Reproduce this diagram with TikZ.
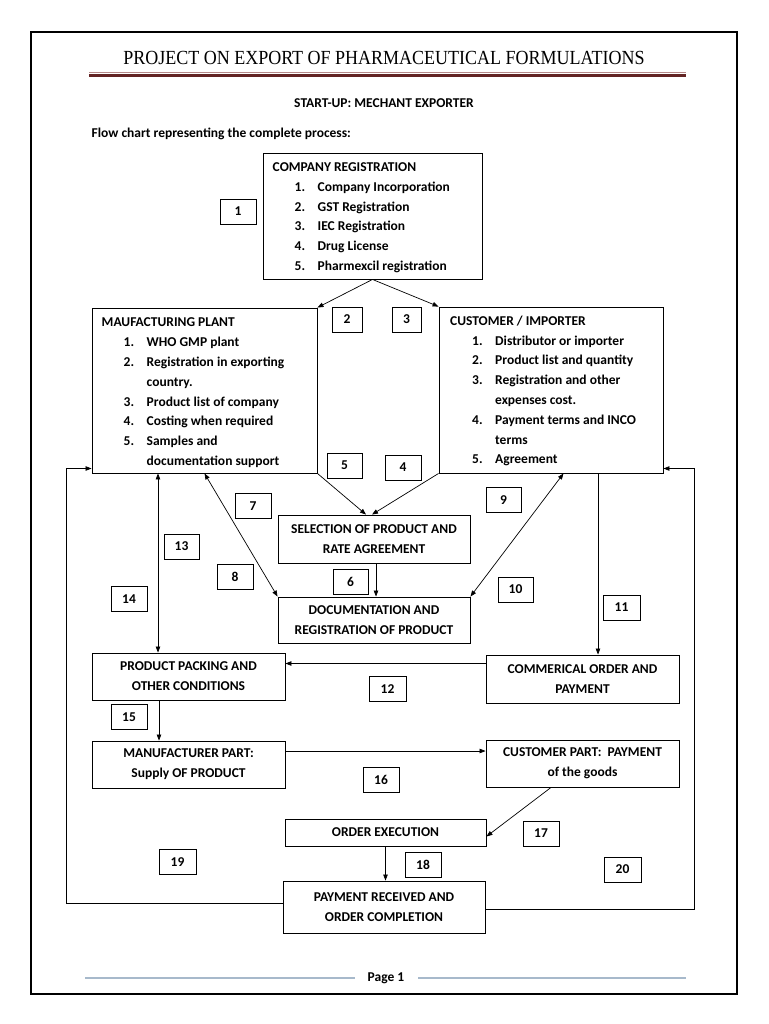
\documentclass[tikz,border=0pt]{standalone}
\usepackage{fontspec}
\setmainfont{Carlito}
\newfontfamily\titlefont[FakeStretch=0.9]{Liberation Serif}
\usetikzlibrary{arrows.meta}
\definecolor{maroondark}{HTML}{632423}
\definecolor{maroonlight}{HTML}{B58A8A}
\definecolor{footline}{HTML}{A7B9CB}
\newcommand\bodyfont{\fontsize{13.5}{19.8}\selectfont\bfseries}
\newcommand\li[2]{\hspace*{22pt}\makebox[23pt][l]{#1}#2}
\newcommand\lc[1]{\hspace*{45pt}#1}
\tikzset{
  box/.style={draw=black, line width=0.9pt, inner sep=0pt, align=center, font=\bodyfont},
  lbl/.style={draw=black, line width=0.9pt, inner sep=0pt, minimum width=36pt, minimum height=25pt, font=\fontsize{13.5}{15}\selectfont\bfseries},
  listtext/.style={anchor=base west, align=left, inner sep=0pt, font=\bodyfont},
  arr/.style={line width=0.7pt, -{Triangle[length=6pt,width=4.5pt]}},
  dbl/.style={line width=0.7pt, {Triangle[length=6pt,width=4.5pt]}-{Triangle[length=6pt,width=4.5pt]}},
  plain/.style={line width=0.7pt}
}
\begin{document}
\begin{tikzpicture}[x=1pt,y=-1pt]
\useasboundingbox (0,0) rectangle (768,1024);
% page frame
\draw[line width=1.2pt] (31,32) rectangle (737,994);
% header
\node[inner sep=0pt, anchor=base, font=\titlefont\fontsize{20}{24}\selectfont] (title) at (384,65) {PROJECT ON EXPORT OF PHARMACEUTICAL FORMULATIONS};
\draw[maroonlight, line width=1.2pt] (89,72.5) -- (686,72.5);
\draw[maroondark, line width=3pt] (89,76) -- (686,76);
\node[inner sep=0pt, font=\bodyfont] (sub) at (384,103) {START-UP: MECHANT EXPORTER};
\node[inner sep=0pt, anchor=west, font=\bodyfont] (flow) at (91.5,133.5) {Flow chart representing the complete process:};
% footer
\node[inner sep=0pt, font=\bodyfont] (page) at (386,978) {Page 1};
\draw[footline, line width=1.5pt] (85,978) -- (355,978);
\draw[footline, line width=1.5pt] (418,978) -- (686,978);

% main boxes
\node[box, minimum width=219pt, minimum height=126pt] (comp) at (372.5,216) {};
\node[listtext] (comptxt) at (272.5,270.5) {COMPANY REGISTRATION\\
\li{1.}{Company Incorporation}\\
\li{2.}{GST Registration}\\
\li{3.}{IEC Registration}\\
\li{4.}{Drug License}\\
\li{5.}{Pharmexcil registration}};

\node[box, minimum width=225pt, minimum height=165pt] (manu) at (204.5,390.5) {};
\node[listtext] (manutxt) at (101.5,465.5) {MAUFACTURING PLANT\\
\li{1.}{WHO GMP plant}\\
\li{2.}{Registration in exporting}\\
\lc{country.}\\
\li{3.}{Product list of company}\\
\li{4.}{Costing when required}\\
\li{5.}{Samples and}\\
\lc{documentation support}};

\node[box, minimum width=224pt, minimum height=166pt] (cust) at (551,390) {};
\node[listtext] (custtxt) at (450,463.8) {CUSTOMER / IMPORTER\\
\li{1.}{Distributor or importer}\\
\li{2.}{Product list and quantity}\\
\li{3.}{Registration and other}\\
\lc{expenses cost.}\\
\li{4.}{Payment terms and INCO}\\
\lc{terms}\\
\li{5.}{Agreement}};

\node[box, minimum width=192pt, minimum height=48pt] (sel) at (374,539) {SELECTION OF PRODUCT AND\\RATE AGREEMENT};
\node[box, minimum width=192pt, minimum height=46pt] (doc) at (374,620) {DOCUMENTATION AND\\REGISTRATION OF PRODUCT};
\node[box, minimum width=193pt, minimum height=47pt] (pack) at (188.5,676.5) {PRODUCT PACKING AND\\OTHER CONDITIONS};
\node[box, minimum width=193pt, minimum height=48pt] (comm) at (582.5,679) {COMMERICAL ORDER AND\\PAYMENT};
\node[box, minimum width=193pt, minimum height=47pt] (mpart) at (188.5,764.5) {MANUFACTURER PART:\\Supply OF PRODUCT};
\node[box, minimum width=193pt, minimum height=47pt] (cpart) at (582.5,763.5) {CUSTOMER PART:\ \ PAYMENT\\of the goods};
\node[box, minimum width=201pt, minimum height=27pt] (exec) at (385.5,832.5) {ORDER EXECUTION};
\node[box, minimum width=202pt, minimum height=52pt] (pay) at (384,907) {PAYMENT RECEIVED AND\\ORDER COMPLETION};

% number labels
\node[lbl] (l1) at (238,211.5) {1};
\node[lbl, minimum width=30pt] (l2) at (347,319.5) {2};
\node[lbl, minimum width=29pt] (l3) at (406.5,319.5) {3};
\node[lbl, minimum width=35pt] (l5) at (344.5,465.5) {5};
\node[lbl] (l4) at (403,467.5) {4};
\node[lbl] (l7) at (253,506) {7};
\node[lbl, minimum width=35pt] (l13) at (181.5,546.5) {13};
\node[lbl] (l8) at (235,576.5) {8};
\node[lbl] (l14) at (129,599) {14};
\node[lbl, minimum width=35pt] (l6) at (350.5,581.5) {6};
\node[lbl, minimum width=35pt] (l9) at (503.5,500) {9};
\node[lbl, minimum width=35pt] (l10) at (515.5,589.5) {10};
\node[lbl, minimum width=37pt] (l11) at (621.5,607.5) {11};
\node[lbl, minimum width=37pt] (l12) at (387.5,689) {12};
\node[lbl] (l15) at (129,717) {15};
\node[lbl] (l16) at (381,779.5) {16};
\node[lbl] (l17) at (541,833.5) {17};
\node[lbl, minimum width=37pt] (l19) at (177.5,862) {19};
\node[lbl] (l18) at (423,865) {18};
\node[lbl, minimum width=37pt] (l20) at (622.5,869.5) {20};

% helper coordinates
\coordinate (x13) at (158,0);
\coordinate (x9) at (563.5,0);
\coordinate (x11) at (598,0);
\coordinate (y12) at (0,663.5);
\coordinate (x15) at (159,0);
\coordinate (y16) at (0,751);
\coordinate (x17) at (551,0);
\coordinate (xL) at (66.5,0);
\coordinate (xR) at (694,0);
\coordinate (yL) at (0,468.5);
\coordinate (yPL) at (0,903);
\coordinate (yPR) at (0,909.5);
\coordinate (x6) at (376,0);

% connectors
\draw[arr] (comp.south) -- (manu.north east);
\draw[arr] (comp.south) -- (cust.north west);
\draw[arr] (manu.south east) -- ([xshift=-8pt]sel.north);
\draw[arr] (cust.south west) -- ([xshift=-2pt]sel.north);
\draw[arr] (x6 |- sel.south) -- (x6 |- doc.north);
\draw[dbl] (manu.south) -- (doc.north west);
\draw[dbl] (x13 |- manu.south) -- (x13 |- pack.north);
\draw[dbl] (x9 |- cust.south) -- (doc.north east);
\draw[arr] (x11 |- cust.south) -- (x11 |- comm.north);
\draw[arr] (comm.west |- y12) -- (pack.east |- y12);
\draw[arr] (x15 |- pack.south) -- (x15 |- mpart.north);
\draw[arr] (mpart.east |- y16) -- (cpart.west |- y16);
\draw[arr] (x17 |- cpart.south) -- ([yshift=-4pt]exec.east);
\draw[arr] (exec.south) -- (exec.south |- pay.north);
\draw[arr] (pay.west |- yPL) -- (xL |- yPL) -- (xL |- yL) -- (manu.west |- yL);
\draw[arr] (pay.east |- yPR) -- (xR |- yPR) -- (xR |- yL) -- (cust.east |- yL);
\end{tikzpicture}
\end{document}
